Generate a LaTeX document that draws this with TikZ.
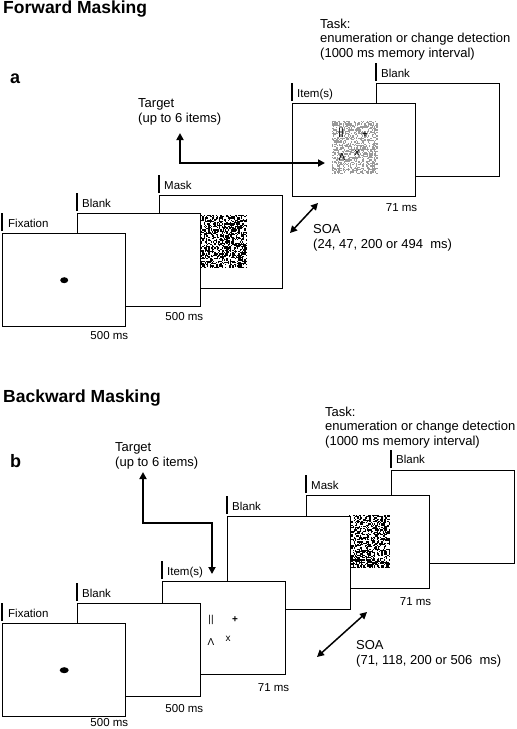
\documentclass[tikz,border=0pt]{standalone}
\usepackage{fontspec}
\setmainfont{Liberation Sans}
\usetikzlibrary{arrows.meta}
\tikzset{
  frame/.style={draw,line width=1.4pt,fill=white,anchor=north west,inner sep=0pt,minimum width=123pt,minimum height=93pt},
  bar/.style={line width=2.6pt},
  stagelab/.style={anchor=base west,inner sep=0pt,font=\fontsize{11.5}{13}\selectfont},
  dur/.style={anchor=base east,inner sep=0pt,font=\fontsize{11.5}{13}\selectfont},
  note/.style={anchor=base west,inner sep=0pt,align=left,font=\fontsize{13}{14.5}\selectfont},
  heading/.style={anchor=base west,inner sep=0pt,font=\fontsize{17.5}{19}\selectfont\bfseries},
  arr/.style={line width=1.8pt,{Triangle[length=7pt,width=7pt]}-{Triangle[length=7pt,width=7pt]}},
  sym/.style={inner sep=0pt,font=\fontsize{10}{10}\selectfont},
}
\newcommand{\noisepatch}[5]{% left, top, cells across, cells down, colour
  \foreach \nx in {1,...,#3}{\foreach \ny in {1,...,#4}{%
    \pgfmathrandominteger{\nr}{0}{9}%
    \ifnum\nr<5 \fill[#5] ({#1+1.2*\nx-1.2},{#2+1.2*\ny-1.2}) rectangle ++(1.2,1.2);\fi}}}
\begin{document}
\begin{tikzpicture}[x=1pt,y=-1pt]
\useasboundingbox (0,0) rectangle (517,729);
\pgfmathsetseed{42}
% forward masking
\node[heading] (titleA) at (3,13) {Forward Masking};
\node[heading,font=\fontsize{18}{19}\selectfont\bfseries] (panelA) at (10,83) {a};
\node[note] (taskA) at (320,57) {Task:\\enumeration or change detection\\(1000 ms memory interval)};
\node[note] (tgtA) at (138,122) {Target\\(up to 6 items)};
\node[frame] (blankA2) at (376,83) {};
\draw[bar] (blankA2.north west) ++(0,-2) -- ++(0,-18);
\node[stagelab] (blankA2lab) at (381,77) {Blank};
\node[frame] (itemA) at (292,103) {};
\draw[bar] (itemA.north west) ++(0,-2) -- ++(0,-18);
\node[stagelab] (itemAlab) at (297,97) {Item(s)};
\noisepatch{332}{121}{38}{44}{black!40}
\node[sym] (barsA) at (341,133) {||};
\node[sym] (plusA) at (365,135) {\textbf{+}};
\node[sym] (lamA) at (342,157) {Λ};
\node[sym] (crossA) at (357,153) {x};
\node[dur] (durItemA) at ([shift={(1,14)}]itemA.south east) {71 ms};
\node[frame] (maskA) at (159,195) {};
\draw[bar] (maskA.north west) ++(0,-2) -- ++(0,-18);
\node[stagelab] (maskAlab) at (164,189) {Mask};
\noisepatch{200}{215}{39}{44}{black}
\node[frame] (blankA1) at (77,213) {};
\draw[bar] (blankA1.north west) ++(0,-2) -- ++(0,-18);
\node[stagelab] (blankA1lab) at (82,207) {Blank};
\node[dur] (durBlankA) at ([shift={(2,13)}]blankA1.south east) {500 ms};
\node[frame] (fixA) at (2,233) {};
\draw[bar] (fixA.north west) ++(0,-2) -- ++(0,-18);
\node[stagelab] (fixAlab) at (8,227) {Fixation};
\fill (fixA.center) ellipse (4 and 3);
\node[dur] (durFixA) at ([shift={(2,12)}]fixA.south east) {500 ms};
\coordinate (tgtAtip) at (180,133);
\coordinate (itemAtip) at (325,163);
\draw[arr] (tgtAtip) |- (itemAtip);
\coordinate (soaA1) at (290,233);
\coordinate (soaA2) at (318,203);
\draw[arr,line width=1.5pt] (soaA1) -- (soaA2);
\node[note] (soaA) at (313,248) {SOA\\(24, 47, 200 or 494\ \ ms)};
% backward masking
\node[heading] (titleB) at (3,402) {Backward Masking};
\node[heading,font=\fontsize{18}{19}\selectfont\bfseries] (panelB) at (10,467) {b};
\node[note] (taskB) at (325,445) {Task:\\enumeration or change detection\\(1000 ms memory interval)};
\node[note] (tgtB) at (115,466) {Target\\(up to 6 items)};
\node[frame] (blankB3) at (391,470) {};
\draw[bar] (blankB3.north west) ++(0,-2) -- ++(0,-18);
\node[stagelab] (blankB3lab) at (396,463) {Blank};
\node[frame] (maskB) at (306,495) {};
\draw[bar] (maskB.north west) ++(0,-2) -- ++(0,-18);
\node[stagelab] (maskBlab) at (311,489) {Mask};
\noisepatch{349}{515}{34}{44}{black}
\node[dur] (durMaskB) at ([shift={(1,16)}]maskB.south east) {71 ms};
\node[frame] (blankB2) at (227,516) {};
\draw[bar] (blankB2.north west) ++(0,-2) -- ++(0,-18);
\node[stagelab] (blankB2lab) at (232,510) {Blank};
\node[frame] (itemB) at (162,581) {};
\draw[bar] (itemB.north west) ++(0,-2) -- ++(0,-18);
\node[stagelab] (itemBlab) at (167,575) {Item(s)};
\node[sym] (barsB) at (211,620) {||};
\node[sym] (plusB) at (235,620) {\textbf{+}};
\node[sym] (lamB) at (211,642) {Λ};
\node[sym] (crossB) at (228,639) {x};
\node[dur] (durItemB) at ([shift={(3,16)}]itemB.south east) {71 ms};
\node[frame] (blankB1) at (77,603) {};
\draw[bar] (blankB1.north west) ++(0,-2) -- ++(0,-18);
\node[stagelab] (blankB1lab) at (82,597) {Blank};
\node[dur] (durBlankB) at ([shift={(2,15)}]blankB1.south east) {500 ms};
\node[frame] (fixB) at (2,623) {};
\draw[bar] (fixB.north west) ++(0,-2) -- ++(0,-18);
\node[stagelab] (fixBlab) at (8,617) {Fixation};
\fill (fixB.center) ellipse (4.5 and 3);
\node[dur] (durFixB) at ([shift={(2,9)}]fixB.south east) {500 ms};
\coordinate (tgtBtip) at (143,472);
\coordinate (cornerB) at (212,523);
\coordinate (itemBtip) at (212,574);
\draw[arr] (tgtBtip) |- (cornerB) -- (itemBtip);
\coordinate (soaB1) at (317,657);
\coordinate (soaB2) at (367,612);
\draw[arr,line width=1.5pt] (soaB1) -- (soaB2);
\node[note] (soaB) at (356,664) {SOA\\(71, 118, 200 or 506\ \ ms)};
\end{tikzpicture}
\end{document}
